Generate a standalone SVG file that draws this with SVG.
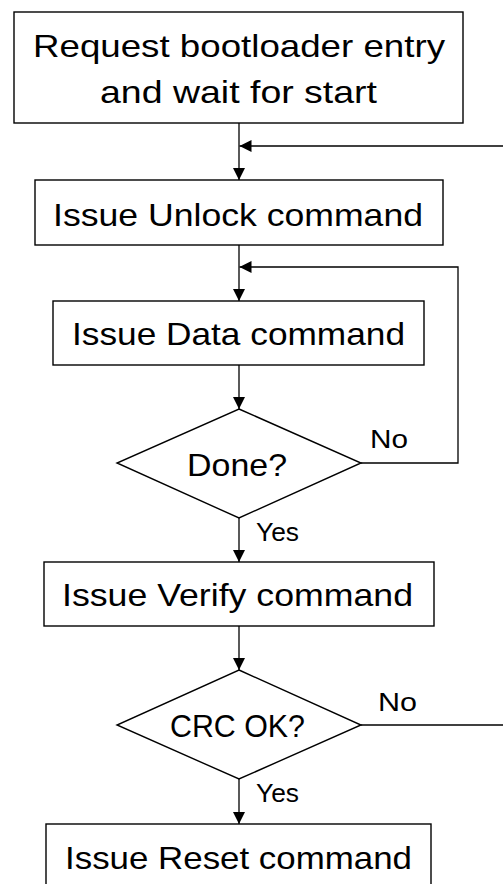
<svg xmlns="http://www.w3.org/2000/svg" width="503" height="884" viewBox="0 0 503 884">
<style>
.box{fill:#fff;stroke:#000;stroke-width:1.4}
.t{font-family:"Liberation Sans",Arial,sans-serif;font-size:32px;fill:#000;text-anchor:middle}
.l{font-family:"Liberation Sans",Arial,sans-serif;font-size:26px;fill:#000}
.c{fill:none;stroke:#000;stroke-width:1.3}
</style>
<defs>
<marker id="ah" markerUnits="userSpaceOnUse" markerWidth="12" markerHeight="12" refX="12" refY="6" orient="auto">
<path d="M0,0 L12,6 L0,12 z" fill="#000"/>
</marker>
</defs>
<g id="connectors">
<line class="c" x1="239" y1="123" x2="239" y2="180" marker-end="url(#ah)"/>
<line class="c" x1="503" y1="146" x2="239.5" y2="146" marker-end="url(#ah)"/>
<line class="c" x1="239" y1="245" x2="239" y2="301" marker-end="url(#ah)"/>
<polyline class="c" points="361,463 458,463 458,267 239.5,267" marker-end="url(#ah)"/>
<line class="c" x1="239" y1="365" x2="239" y2="409" marker-end="url(#ah)"/>
<line class="c" x1="239" y1="518" x2="239" y2="562" marker-end="url(#ah)"/>
<line class="c" x1="239" y1="626" x2="239" y2="670" marker-end="url(#ah)"/>
<line class="c" x1="361" y1="725" x2="503" y2="725"/>
<line class="c" x1="239" y1="779" x2="239" y2="824" marker-end="url(#ah)"/>
<text class="l" x="370" y="448" textLength="38" lengthAdjust="spacingAndGlyphs">No</text>
<text class="l" x="256" y="541" textLength="43" lengthAdjust="spacingAndGlyphs">Yes</text>
<text class="l" x="378" y="711" textLength="39" lengthAdjust="spacingAndGlyphs">No</text>
<text class="l" x="256" y="802" textLength="43" lengthAdjust="spacingAndGlyphs">Yes</text>
</g>
<g id="n1">
<rect class="box" x="14" y="12" width="449" height="111"/>
<text class="t" x="239" y="57" textLength="412" lengthAdjust="spacingAndGlyphs">Request bootloader entry</text>
<text class="t" x="238.5" y="103" textLength="277" lengthAdjust="spacingAndGlyphs">and wait for start</text>
</g>
<g id="n2">
<rect class="box" x="35" y="180" width="408" height="65"/>
<text class="t" x="238" y="226" textLength="370" lengthAdjust="spacingAndGlyphs">Issue Unlock command</text>
</g>
<g id="n3">
<rect class="box" x="53" y="301" width="371" height="64"/>
<text class="t" x="238.5" y="345" textLength="333" lengthAdjust="spacingAndGlyphs">Issue Data command</text>
</g>
<g id="n4">
<polygon class="box" points="239,409 361,463 239,518 117,463"/>
<text class="t" x="237" y="476" textLength="100" lengthAdjust="spacingAndGlyphs">Done?</text>
</g>
<g id="n5">
<rect class="box" x="44" y="562" width="390" height="64"/>
<text class="t" x="237.5" y="606" textLength="351" lengthAdjust="spacingAndGlyphs">Issue Verify command</text>
</g>
<g id="n6">
<polygon class="box" points="239,670 361,725 239,779 117,725"/>
<text class="t" x="237.5" y="737" textLength="135" lengthAdjust="spacingAndGlyphs">CRC OK?</text>
</g>
<g id="n7">
<rect class="box" x="46" y="824" width="385" height="80"/>
<text class="t" x="238.5" y="869" textLength="347" lengthAdjust="spacingAndGlyphs">Issue Reset command</text>
</g>
</svg>
